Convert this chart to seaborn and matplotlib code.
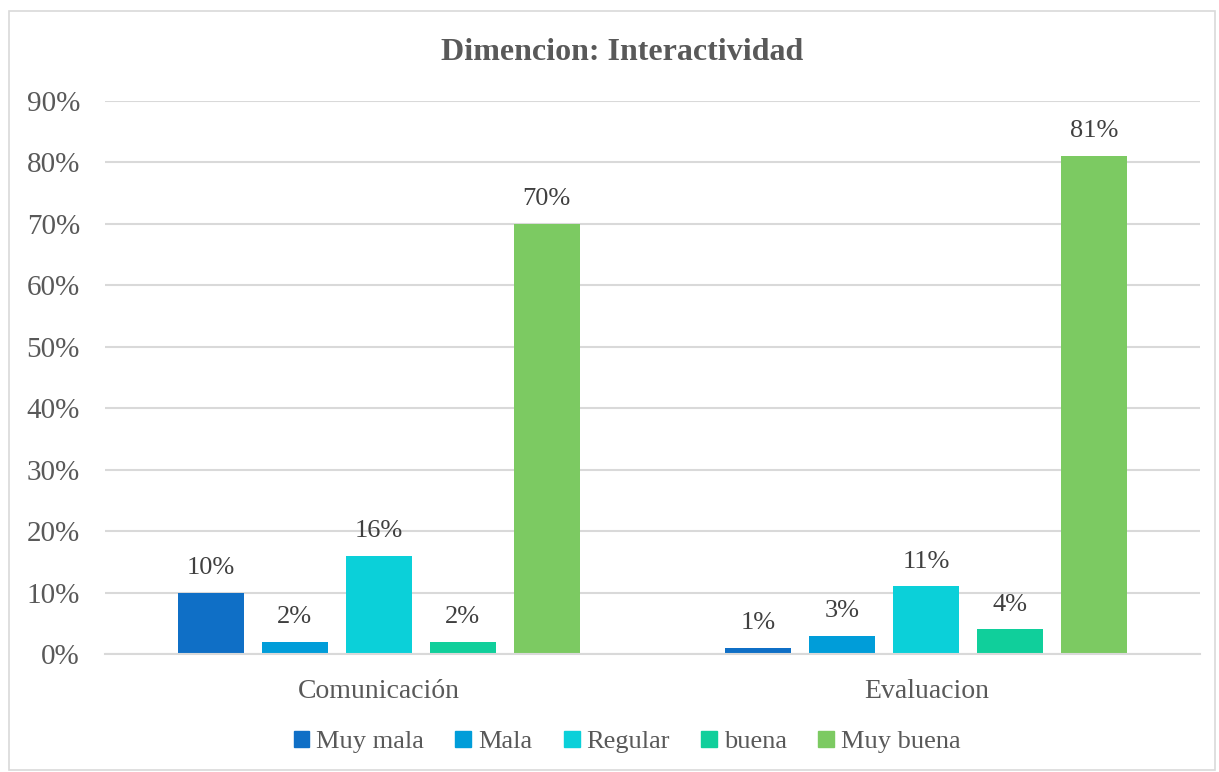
import matplotlib
matplotlib.use("Agg")
import matplotlib.pyplot as plt
import seaborn as sns
import pandas as pd
from matplotlib.patches import Rectangle

categories = ["Comunicación", "Evaluacion"]
levels = ["Muy mala", "Mala", "Regular", "buena", "Muy buena"]
comunicacion = [0.10, 0.02, 0.16, 0.02, 0.70]
evaluacion = [0.01, 0.03, 0.11, 0.04, 0.81]
colors = ["#0F6FC6", "#009DD9", "#0BD0D9", "#10CF9B", "#7CCA62"]
yticks = [0, 0.1, 0.2, 0.3, 0.4, 0.5, 0.6, 0.7, 0.8, 0.9]

rows = []
for cat, vals in zip(categories, [comunicacion, evaluacion]):
    for lev, v in zip(levels, vals):
        rows.append({"cat": cat, "nivel": lev, "valor": v})
df = pd.DataFrame(rows)

sns.set_theme(style="white")
plt.rcParams["font.family"] = ["Liberation Serif", "DejaVu Serif"]

fig = plt.figure(figsize=(12.19, 7.72), dpi=100)
ax = fig.add_axes([105/1219, 1-654/772, (1200-105)/1219, (654-101)/772])

sns.barplot(data=df, x="cat", y="valor", hue="nivel", order=categories,
            hue_order=levels, palette=colors, width=0.767, gap=0.214,
            ax=ax, legend=True, saturation=1, linewidth=0)

txt = "#595959"
ax.set_ylim(0, 0.9)
ax.set_xlim(-0.5, 1.5)
ax.set_yticks(yticks)
ax.set_yticklabels([f"{int(round(t*100))}%" for t in yticks], fontsize=21, color=txt)
ax.tick_params(axis="x", labelsize=20, colors=txt, length=0, pad=18)
ax.tick_params(axis="y", length=0, pad=18)
ax.set_xlabel("")
ax.set_ylabel("")
ax.yaxis.grid(True, color="#D9D9D9", linewidth=1.5)
ax.set_axisbelow(True)
for s in ["top", "right", "left"]:
    ax.spines[s].set_visible(False)
ax.spines["bottom"].set_color("#D9D9D9")
ax.spines["bottom"].set_linewidth(1.5)

for cont in ax.containers:
    labels = [f"{int(round(b.get_height()*100))}%" for b in cont]
    ax.bar_label(cont, labels=labels, padding=10, fontsize=19, color="#404040")

ax.legend_.remove()
handles = [Rectangle((0, 0), 1, 1, color=c) for c in colors]
fig.legend(handles, levels, loc="center", bbox_to_anchor=(627/1219, 1-742/772),
           ncol=5, frameon=False, fontsize=19, handlelength=0.6, handleheight=0.6,
           handletextpad=0.25, columnspacing=1.2, labelcolor=txt)

fig.text(622/1219, 1-52/772, "Dimencion: Interactividad", ha="center", va="center",
         fontsize=23, fontweight="bold", color=txt)

fig.patches.append(Rectangle((9/1219, 0.002), 1206/1219, 1-11/772-0.002,
                             transform=fig.transFigure, fill=False,
                             edgecolor="#D9D9D9", linewidth=1.2))

fig.savefig("out.png", dpi=100)
